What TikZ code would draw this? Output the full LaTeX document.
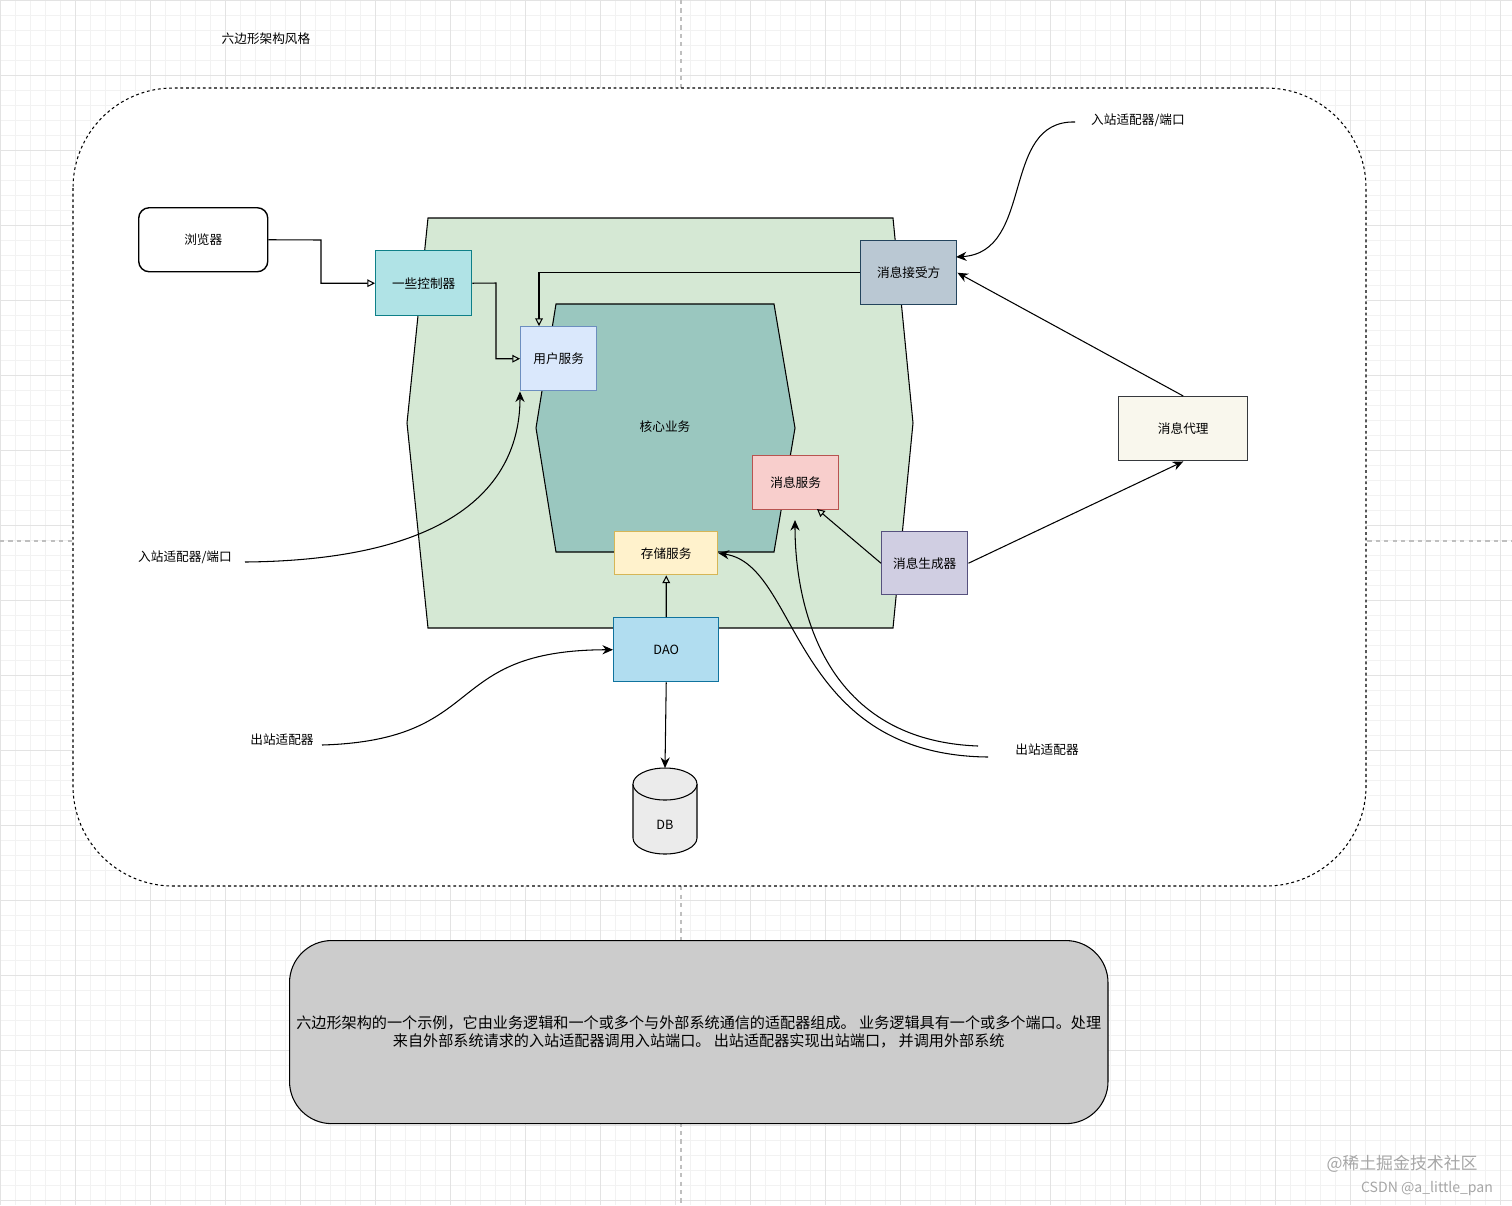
\documentclass[tikz,border=0pt]{standalone}
\usepackage{fontspec}
\setmainfont{Noto Sans CJK SC}
\usetikzlibrary{arrows.meta}
\tikzset{
  box/.style={draw, anchor=north west, inner sep=0pt, font=\fontsize{3.6}{4.3}\selectfont},
  lbl/.style={font=\fontsize{3.6}{4.3}\selectfont, inner sep=1pt},
  open/.style={-{Triangle[open,width=2.2pt,length=2.2pt]}, line width=0.3pt},
  solid/.style={-{Stealth[width=2.6pt,length=3pt]}, line width=0.3pt},
}
\begin{document}
\begin{tikzpicture}[x=0.01cm,y=-0.01cm]
\useasboundingbox (0,0) rectangle (1512,1205);
% grid paper
\foreach \g in {0,15,...,1515} \draw[gray!10, line width=0.2pt] (\g,0) -- (\g,1205);
\foreach \g in {0,15,...,1205} \draw[gray!10, line width=0.2pt] (0,\g) -- (1512,\g);
\foreach \g in {0,75,...,1515} \draw[gray!22, line width=0.25pt] (\g,0) -- (\g,1205);
\foreach \g in {0,75,...,1205} \draw[gray!22, line width=0.25pt] (0,\g) -- (1512,\g);
\draw[gray!50, dash pattern=on 1.2pt off 1.2pt, line width=0.3pt] (681,0) -- (681,1205) (0,541) -- (1512,541);
\node[lbl] (title) at (266,39) {六边形架构风格};
% outer boundary
\draw[dash pattern=on 0.8pt off 0.8pt, fill=white, line width=0.3pt, rounded corners=1cm] (73,88) rectangle (1366,886);
% hexagons
\draw[fill={rgb,255:red,213;green,232;blue,212}, line width=0.3pt]
  (428,218) -- (893,218) -- (913,423) -- (893,628) -- (428,628) -- (407,423) -- cycle;
\draw[fill={rgb,255:red,154;green,199;blue,191}, line width=0.3pt]
  (556,304) -- (774,304) -- (795,428) -- (774,552) -- (556,552) -- (536,428) -- cycle;
\node[lbl] (core) at (665,427) {核心业务};
% boxes
\node[box, rounded corners=3, minimum width=1.29cm, minimum height=0.64cm] (browser) at (138,207) {浏览器};
\node[box, fill={rgb,255:red,176;green,227;blue,230}, draw={rgb,255:red,14;green,128;blue,136}, minimum width=0.96cm, minimum height=0.65cm] (ctrl) at (375,250) {一些控制器};
\node[box, fill={rgb,255:red,218;green,232;blue,252}, draw={rgb,255:red,108;green,142;blue,191}, minimum width=0.76cm, minimum height=0.64cm] (user) at (520,326) {用户服务};
\node[box, fill={rgb,255:red,186;green,200;blue,211}, draw={rgb,255:red,35;green,68;blue,93}, minimum width=0.96cm, minimum height=0.64cm] (recv) at (860,240) {消息接受方};
\node[box, fill={rgb,255:red,249;green,247;blue,237}, draw={rgb,255:red,54;green,57;blue,61}, minimum width=1.29cm, minimum height=0.64cm] (broker) at (1118,396) {消息代理};
\node[box, fill={rgb,255:red,248;green,206;blue,204}, draw={rgb,255:red,184;green,84;blue,80}, minimum width=0.86cm, minimum height=0.54cm] (msg) at (752,455) {消息服务};
\node[box, fill={rgb,255:red,255;green,242;blue,204}, draw={rgb,255:red,214;green,182;blue,86}, minimum width=1.03cm, minimum height=0.43cm] (store) at (614,531) {存储服务};
\node[box, fill={rgb,255:red,208;green,206;blue,226}, draw={rgb,255:red,86;green,81;blue,126}, minimum width=0.86cm, minimum height=0.63cm] (gen) at (881,531) {消息生成器};
\node[box, fill={rgb,255:red,177;green,221;blue,240}, draw={rgb,255:red,16;green,115;blue,158}, minimum width=1.05cm, minimum height=0.64cm] (dao) at (613,617) {DAO};
% database cylinder
\draw[fill=black!8, line width=0.3pt] (633,784) -- (633,838) arc[start angle=180, end angle=360, x radius=32, y radius=-16] -- (697,784);
\draw[fill=black!8, line width=0.3pt] (665,784) ellipse[x radius=32, y radius=16];
\coordinate (dbtop) at (665,768);
\node[lbl] (db) at (665,825) {DB};
% labels
\node[lbl] (inTop) at (1138,120) {入站适配器/端口};
\node[lbl] (inLeft) at (185,557) {入站适配器/端口};
\node[lbl] (outLeft) at (282,740) {出站适配器};
\node[lbl] (outRight) at (1047,750) {出站适配器};
% connectors
\draw[open] (browser.east) -- (321,240) |- (ctrl.west);
\draw[open] (ctrl.east) -- (496,283) |- (user.west);
\draw[open] (recv.west) -| (539,326);
\draw[solid] (broker.north) -- (recv.east);
\draw[solid] (gen.east) -- (broker.south);
\draw[open] (gen.west) -- (817,509);
\draw[open] (dao.north) -- (store.south);
\draw[solid] (dao.south) -- (dbtop);
\draw[solid] (245,562) .. controls (460,560) and (520,480) .. (user.south west);
\draw[solid] (1075,122) .. controls (1000,120) and (1035,252) .. (956,257);
\draw[solid] (322,745) .. controls (490,740) and (440,650) .. (dao.west);
\draw[solid] (978,746) .. controls (820,740) and (795,600) .. (795,520);
\draw[solid] (988,757) .. controls (790,755) and (800,565) .. (store.east);
% caption
\node[draw, fill=black!20, rounded corners=12, line width=0.3pt, inner sep=0pt, minimum width=8.18cm, minimum height=1.83cm, align=center, anchor=north west, font=\fontsize{4.3}{5.2}\selectfont] (note) at (289,940)
  {六边形架构的一个示例，它由业务逻辑和一个或多个与外部系统通信的适配器组成。 业务逻辑具有一个或多个端口。处理\\来自外部系统请求的入站适配器调用入站端口。 出站适配器实现出站端口，  并调用外部系统};
\node[lbl, gray!70, font=\fontsize{4.8}{5}\selectfont] (wm1) at (1402,1164) {@稀土掘金技术社区};
\node[lbl, gray!70, font=\fontsize{4}{5}\selectfont] (wm2) at (1427,1188) {CSDN @a\_little\_pan};
\end{tikzpicture}
\end{document}
